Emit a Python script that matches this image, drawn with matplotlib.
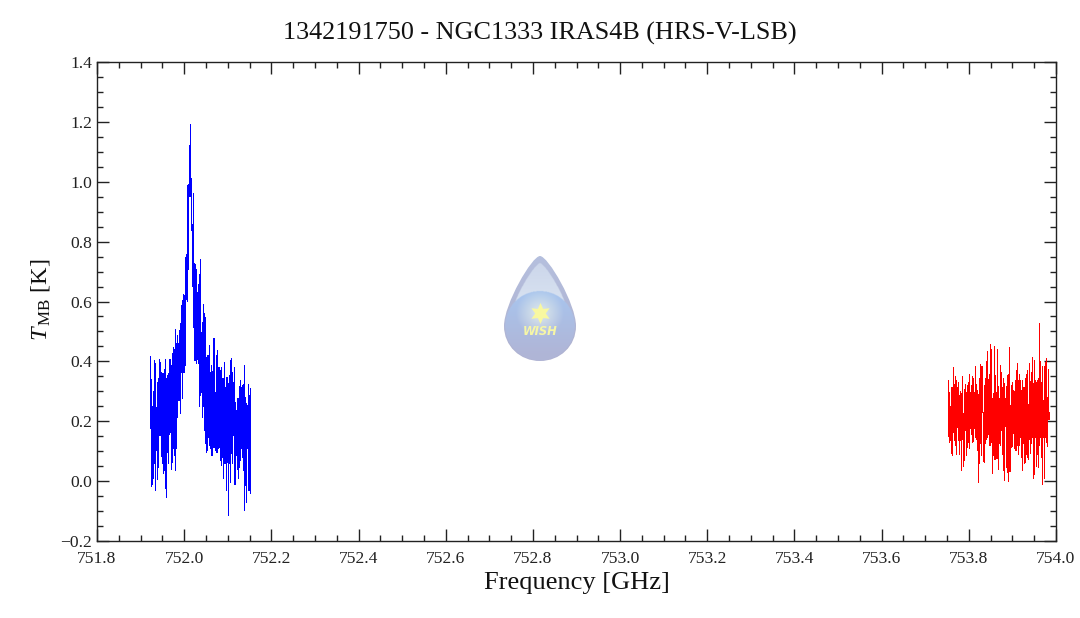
import numpy as np
import matplotlib
matplotlib.use('Agg')
import matplotlib.pyplot as plt
from matplotlib.path import Path
from matplotlib.patches import PathPatch
from matplotlib.ticker import MultipleLocator

plt.rcParams['font.family'] = ['Liberation Serif', 'DejaVu Serif']
plt.rcParams['mathtext.fontset'] = 'custom'
plt.rcParams['mathtext.rm'] = 'Liberation Serif'
plt.rcParams['mathtext.it'] = 'Liberation Serif:italic'

#spectrum, top and bottom of each channel
blue_hi = [.418,.340,.251,.302,.404,.393,.246,.332,.343,.407,.398,.365,.362,.360,.376,.407,.346,.354,.360,.407,
           .407,.388,.427,.447,.443,.507,.460,.488,.460,.505,.527,.588,.606,.624,.621,.747,.758,.988,.994,1.122,
           1.192,1.014,.858,.961,.727,.725,.707,.632,.660,.691,.743,.499,.531,.591,.560,.549,.415,.421,.421,.454,
           .365,.388,.369,.477,.477,.299,.421,.438,.382,.382,.371,.382,.343,.343,.399,.315,.349,.349,.329,.354,
           .404,.410,.365,.332,.382,.265,.237,.276,.276,.318,.338,.315,.321,.324,.388,.282,.260,.254,.326,.287,.310]
blue_lo = [.176,-.015,-.008,.009,.059,-.030,.104,.007,.048,.154,.154,.084,.059,.028,.037,-.024,-.052,.098,.061,.159,
           .165,.042,.065,.109,.087,.037,.109,.215,.271,.271,.228,.365,.276,.365,.365,.388,.610,.602,.710,.952,
           .952,.838,.651,.516,.404,.404,.393,.407,.393,.251,.287,.299,.215,.251,.170,.126,.098,.104,.148,.120,
           .109,.087,.087,.115,.115,.104,.098,.098,.109,.115,.070,.054,.081,.009,.059,.059,-.030,.065,-.113,.059,
           -.002,.093,.059,.154,-.008,-.008,.087,.042,.009,.048,.070,.109,.081,.037,-.097,-.013,-.069,.109,-.030,-.030,-.041]
red_hi = [.337,.298,.250,.313,.315,.382,.326,.351,.337,.313,.332,.287,.300,.293,.352,.228,.309,.324,.298,.320,
          .332,.359,.298,.320,.351,.343,.298,.384,.326,.304,.290,.343,.391,.384,.384,.230,.320,.343,.402,.435,
          .340,.359,.457,.440,.276,.293,.451,.354,.298,.443,.317,.276,.387,.363,.313,.343,.328,.279,.317,.354,
          .357,.448,.254,.320,.332,.304,.300,.337,.371,.395,.337,.357,.337,.304,.337,.313,.315,.343,.359,.371,
          .257,.393,.335,.365,.415,.328,.406,.337,.332,.337,.343,.529,.402,.332,.384,.270,.384,.398,.410,.281,.376,.230]
red_lo = [.150,.131,.139,.094,.087,.165,.137,.120,.090,.181,.137,.090,.139,.036,.142,.050,.072,.170,.087,.114,
          .131,.112,.176,.157,.131,.134,.176,.148,.142,.103,-.002,.059,.126,.087,.231,.068,.064,.126,.142,.148,
          .157,.120,.120,.131,.028,.087,.075,.075,.078,.078,.042,.126,.120,.170,.092,.036,.005,.183,.048,.031,
          -.001,.033,.033,.114,.117,.161,.109,.103,.103,.120,.092,.120,.148,.081,.036,.126,.061,.064,.092,.081,
          .075,.142,.094,.126,.148,.009,.025,.148,.050,.092,.048,.120,.148,.081,-.008,.148,.011,.148,.131,.117,.206,.209]
blue_range = (751.9227, 752.1521)
red_range = (753.7530, 753.9846)

title = '1342191750 - NGC1333 IRAS4B (HRS-V-LSB)'

fig = plt.figure(figsize=(10.8, 6.18), dpi=100)
ax = fig.add_axes([97/1080, 77/618, 959/1080, 479/618])

#each channel is a one pixel column between its low and high value
ax.vlines(np.linspace(*blue_range, len(blue_hi)), blue_lo, blue_hi, color='#0000ff', lw=0.72, antialiased=False)
ax.vlines(np.linspace(*red_range, len(red_hi)), red_lo, red_hi, color='#ff0000', lw=0.72, antialiased=False)

ax.set_xlim(751.8, 754.0)
ax.set_ylim(-0.2, 1.4)
ax.xaxis.set_major_locator(MultipleLocator(0.2))
ax.xaxis.set_minor_locator(MultipleLocator(0.05))
ax.yaxis.set_major_locator(MultipleLocator(0.2))
ax.yaxis.set_minor_locator(MultipleLocator(0.05))
ax.tick_params(which='major', direction='in', top=True, right=True, length=8.5, width=1.0, color='#222222',
               labelsize=12.6, labelcolor='#222222', pad=3.5)
ax.tick_params(which='minor', direction='in', top=True, right=True, length=4.5, width=1.0, color='#222222')
ax.tick_params(axis='x', which='major', pad=7.5)
for s in ax.spines.values():
	s.set_linewidth(1.0)
	s.set_color('#222222')

fig.text(540/1080, 1 - 33.5/618, title, ha='center', va='center', fontsize=18.8, color='#111111')
fig.text(577/1080, 1 - 583/618, 'Frequency [GHz]', ha='center', va='center', fontsize=19, color='#111111')
fig.text(40/1080, 1 - 300/618, r'$T_{\,\mathrm{MB}}$ [K]', rotation=90, ha='center', va='center', fontsize=17.5, color='#111111')

#the WISH drop, drawn in its own pixel axes
lx = fig.add_axes([490/1080, 1 - 370/618, 100/1080, 125/618])
lx.set_xlim(490, 590)
lx.set_ylim(370, 245)
lx.axis('off')
lx.patch.set_alpha(0)

drop = Path([(540, 256), (548, 256), (576, 304), (576, 326), (576, 346), (560, 361), (540, 361),
             (520, 361), (504, 346), (504, 326), (504, 304), (532, 256), (540, 256)],
            [Path.MOVETO] + [Path.CURVE4]*12)
shine = Path([(540, 263), (545, 263), (566, 296), (569, 316), (550, 316), (530, 316), (511, 316),
              (514, 296), (535, 263), (540, 263)],
             [Path.MOVETO] + [Path.CURVE4]*9)
yy, xx = np.mgrid[245:370:250j, 490:590:200j]
t = ((yy - 256)/105)[..., None]
img = (1-t)*np.array([.71, .75, .87]) + t*np.array([.68, .69, .81])

#pale highlight above the ball
pts = np.column_stack([xx.ravel(), yy.ravel()])
mask = shine.contains_points(pts).reshape(xx.shape)[..., None]
h = np.clip((yy-263)/50, 0, 1)[..., None]
img = np.where(mask, (1-h)*np.array([.80, .84, .92]) + h*np.array([.86, .90, .95]), img)
#blue ball, fading at its bottom
ball = (((xx-540)**2 + (yy-326)**2) < 35**2)[..., None]
s = np.clip((yy-295)/60, 0, 1)[..., None]
img = np.where(ball, (1-s)*np.array([.66, .77, .93]) + s*np.array([.69, .71, .84]), img)
#glow round the star
r = np.sqrt((xx-540)**2 + (yy-313)**2)[..., None]
g = np.clip(1 - r/24, 0, 1)*0.85
img = (1-g)*img + g*np.array([.92, .95, .92])

im = lx.imshow(np.clip(img, 0, 1), extent=(490, 590, 370, 245), aspect='auto', interpolation='bilinear', zorder=1)
p = PathPatch(drop, facecolor='none', edgecolor='none', transform=lx.transData)
lx.add_patch(p)
im.set_clip_path(p)
lx.set_xlim(490, 590)
lx.set_ylim(370, 245)
lx.scatter([540], [312.5], marker=(6, 1, 0), s=230, color='#f8f8a0', linewidths=0, zorder=3)
lx.text(540, 331.5, 'WISH', ha='center', va='center', fontsize=8.3, style='italic', weight='bold',
        family='DejaVu Sans', color='#f6f6a6', zorder=4)

fig.savefig('out.png', dpi=100)
